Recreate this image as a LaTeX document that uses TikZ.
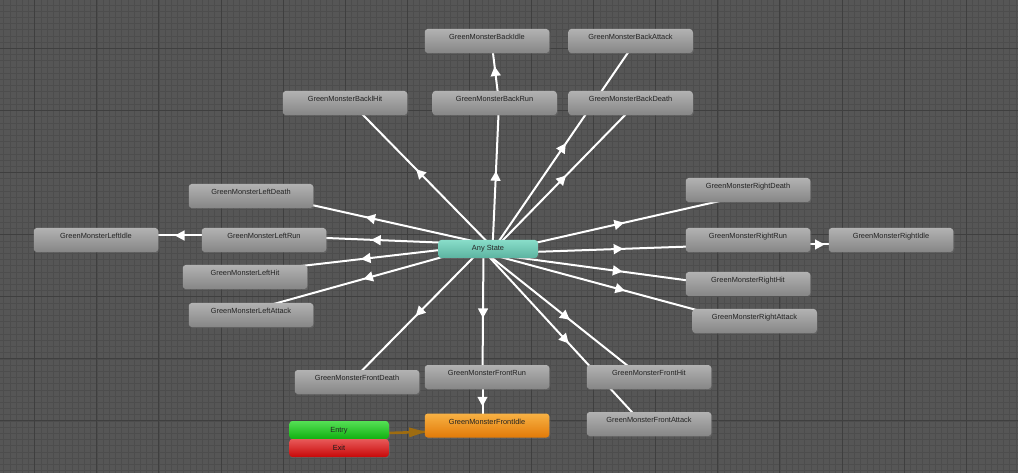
\documentclass[tikz,border=0pt]{standalone}
\usepackage{fontspec}
\setmainfont{Liberation Sans}
\usetikzlibrary{calc,decorations.markings,shadows}
\pgfdeclarelayer{bg}
\pgfdeclarelayer{edges}
\pgfsetlayers{bg,edges,main}
\definecolor{bgc}{HTML}{565656}
\definecolor{minorc}{HTML}{4D4D4D}
\definecolor{majorc}{HTML}{3F3F3F}
\definecolor{stTop}{HTML}{B2B2B2}
\definecolor{stBot}{HTML}{868686}
\definecolor{stTxt}{HTML}{222222}
\definecolor{anyTop}{HTML}{88DDC9}
\definecolor{anyBot}{HTML}{5CB3A0}
\definecolor{entTop}{HTML}{55E055}
\definecolor{entBot}{HTML}{10B010}
\definecolor{exTop}{HTML}{E85A5A}
\definecolor{exBot}{HTML}{C80808}
\definecolor{orTop}{HTML}{F8B244}
\definecolor{orBot}{HTML}{E27A08}
\definecolor{entArrow}{HTML}{9E6C10}
\newcommand\transline[3][white]{%
  \draw[trans=#1] ($(#2)!4.5pt!-90:(#3)$) -- ($(#3)!4.5pt!90:(#2)$);}
\begin{document}
\begin{tikzpicture}[x=1pt,y=-1pt,
  basebox/.style={rectangle, rounded corners=3pt, inner sep=0pt,
    font=\fontsize{7.4}{9}\selectfont,
    drop shadow={shadow xshift=1pt, shadow yshift=-1.2pt, opacity=0.3}},
  state/.style={basebox, minimum width=124.5pt, minimum height=24pt,
    top color=stTop, bottom color=stBot, text=stTxt,
    text height=6pt, text depth=8.2pt},
  smallstate/.style={basebox, minimum width=99.5pt, minimum height=18pt,
    text height=5.5pt, text depth=1.5pt},
  anystate/.style={smallstate, top color=anyTop, bottom color=anyBot, text=black!85},
  entrystate/.style={smallstate, top color=entTop, bottom color=entBot, text=black!85},
  exitstate/.style={smallstate, top color=exTop, bottom color=exBot, text=black!90},
  defaultstate/.style={state, top color=orTop, bottom color=orBot},
  trans/.style={draw=#1, line width=2pt, postaction={decorate},
    decoration={markings, mark=at position 0.5 with
      {\fill[#1] (5,0) -- (-4.5,5.2) -- (-4.5,-5.2) -- cycle;}}},
  trans/.default=white,
  entrytrans/.style={draw=entArrow, line width=2.6pt, postaction={decorate},
    decoration={markings, mark=at position 0.5 with
      {\fill[entArrow] (12,0) -- (-4,5) -- (-4,-5) -- cycle;}}}]

\useasboundingbox (0,0) rectangle (1018,473);
\begin{pgfonlayer}{bg}
  \fill[bgc] (0,0) rectangle (1018,473);
  \foreach \i in {-6,...,158} {\draw[minorc, line width=0.6pt] ({34.7+\i*6.21},0) -- ++(0,473);}
  \foreach \i in {-7,...,68} {\draw[minorc, line width=0.6pt] (0,{48.3+\i*6.21}) -- ++(1018,0);}
  \foreach \i in {0,...,15} {\draw[majorc, line width=1pt] ({34.7+\i*62.1},0) -- ++(0,473);}
  \foreach \i in {0,...,6} {\draw[majorc, line width=1pt] (0,{48.3+\i*62.1}) -- ++(1018,0);}
\end{pgfonlayer}

% states
\node[state] (bidle)   at (487,41)    {GreenMonsterBackIdle};
\node[state] (battack) at (630.5,41)  {GreenMonsterBackAttack};
\node[state] (brun)    at (494.5,103) {GreenMonsterBackRun};
\node[state] (bdeath)  at (630.5,103) {GreenMonsterBackDeath};
\node[state] (bhit)    at (345,103)   {GreenMonsterBacklHit};
\node[state] (ldeath)  at (251,196)   {GreenMonsterLeftDeath};
\node[state] (lidle)   at (96,240)    {GreenMonsterLeftIdle};
\node[state] (lrun)    at (264,240)   {GreenMonsterLeftRun};
\node[state] (lhit)    at (245,277)   {GreenMonsterLeftHit};
\node[state] (lattack) at (251,315)   {GreenMonsterLeftAttack};
\node[state] (rdeath)  at (748,190)   {GreenMonsterRightDeath};
\node[state] (rrun)    at (748,240)   {GreenMonsterRightRun};
\node[state] (ridle)   at (891,240)   {GreenMonsterRightIdle};
\node[state] (rhit)    at (748,284)   {GreenMonsterRightHit};
\node[state] (rattack) at (754.5,321) {GreenMonsterRightAttack};
\node[state] (fdeath)  at (357,382)   {GreenMonsterFrontDeath};
\node[state] (frun)    at (487,377)   {GreenMonsterFrontRun};
\node[state] (fhit)    at (649,377)   {GreenMonsterFrontHit};
\node[state] (fattack) at (649,424)   {GreenMonsterFrontAttack};
\node[defaultstate] (fidle) at (487,425.5) {GreenMonsterFrontIdle};
\node[anystate]   (any)   at (488,249) {Any State};
\node[entrystate] (entry) at (339,430) {Entry};
\node[exitstate]  (exit)  at (339,448) {Exit};

% transitions
\begin{pgfonlayer}{edges}
  \foreach \t in {bhit,brun,bdeath,battack,ldeath,lrun,lhit,lattack,
                  rdeath,rrun,rhit,rattack,fdeath,frun,fhit,fattack}
    {\transline{any}{\t}}
  \transline{brun}{bidle}
  \transline{lrun}{lidle}
  \transline{rrun}{ridle}
  \transline{frun}{fidle}
  \draw[entrytrans] ($(entry)!4.5pt!-90:(fidle)$) -- ($(fidle)!4.5pt!90:(entry)$);
\end{pgfonlayer}
\end{tikzpicture}
\end{document}
